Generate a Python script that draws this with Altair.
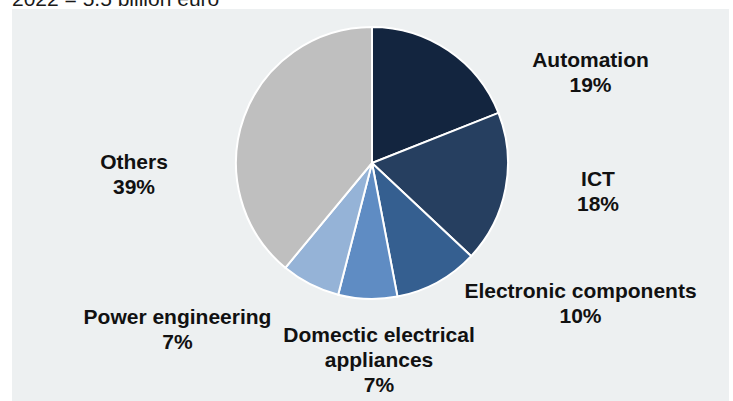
import altair as alt
import pandas as pd

# ---- data ----
categories = ["Automation", "ICT", "Electronic components",
              "Domectic electrical\nappliances", "Power engineering", "Others"]
values = [19, 18, 10, 7, 7, 39]
subtitle = ["2022 = 5.5 billion euro"]

# ---- styling / layout (not data) ----
colors = ["#13253F", "#263F60", "#355F90", "#5F8CC3", "#95B3D7", "#BFBFBF"]
label_xy = {
    "Automation": (590.5, 67),
    "ICT": (598, 186),
    "Electronic components": (580.5, 297.5),
    "Domectic electrical\nappliances": (379, 342),
    "Power engineering": (177.5, 324),
    "Others": (134, 169),
}
CX, CY, R = 372, 163, 136
FONT = "Liberation Sans"

df = pd.DataFrame({"category": categories, "value": values,
                   "idx": list(range(len(categories)))})
df["label"] = [f"{c}\n{v}%" for c, v in zip(categories, values)]
df["lx"] = [label_xy[c][0] for c in categories]
df["ly"] = [label_xy[c][1] for c in categories]

panel = alt.Chart(pd.DataFrame({"k": [0]})).mark_rect(color="#EDF0F1").encode(
    x=alt.value(12), x2=alt.value(729), y=alt.value(9), y2=alt.value(420)
)

title = alt.Chart(pd.DataFrame({"t": subtitle})).mark_text(
    align="left", baseline="alphabetic", fontSize=21, font=FONT, color="#1a1a1a"
).encode(x=alt.value(12), y=alt.value(6), text="t:N")

pie = alt.Chart(df).mark_arc(outerRadius=R, stroke="white", strokeWidth=2).encode(
    theta=alt.Theta("value:Q", stack=True),
    order=alt.Order("idx:Q"),
    color=alt.Color("category:N", scale=alt.Scale(domain=categories, range=colors),
                    legend=None),
    x=alt.value(CX), y=alt.value(CY),
)

labels = alt.Chart(df).mark_text(
    align="center", baseline="alphabetic", fontSize=21, fontWeight="bold",
    font=FONT, color="#111111", lineBreak="\n", lineHeight=25
).encode(
    x=alt.X("lx:Q", scale=None, axis=None),
    y=alt.Y("ly:Q", scale=None, axis=None),
    text="label:N",
)

chart = alt.layer(panel, title, pie, labels).properties(
    width=733, height=401,
    autosize=alt.AutoSizeParams(type="none"),
    padding=0, background="white",
).configure_view(stroke=None)

chart.save("out.html", embed_options={"renderer": "svg", "actions": False})
